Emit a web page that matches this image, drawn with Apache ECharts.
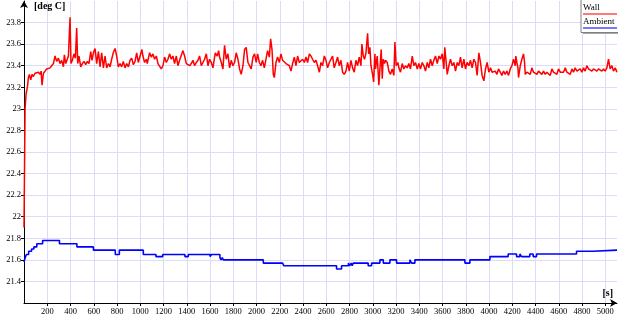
<!DOCTYPE html>
<html><head><meta charset="utf-8">
<script src="https://cdn.jsdelivr.net/npm/echarts@6/dist/echarts.min.js"></script>
<style>html,body{margin:0;padding:0;background:#fff}#c{width:618px;height:324px}</style>
</head><body><div id="c"></div>
<script>
const seriesNames = ['Wall', 'Ambient'];
const xAxisName = '[s]';
const yAxisName = '[deg C]';

const wallT = [0,9,18,29,38,46,58,69,81,95,109,124,138,147,155,167,181,195,210,224,238,253,267,281,296,310,324,339,347,359,373,382,396,404,416,430,442,453,462,473,488,502,516,531,545,559,574,585,597,611,625,640,654,668,683,697,711,726,740,754,768,783,797,811,826,840,854,869,883,898,912,926,940,955,969,983,
994,1014,1023,1037,1052,1060,1080,1095,1109,1123,1138,1152,1166,1181,1195,1209,1224,1238,1252,1267,1281,1295,1310,1324,1338,1353,1367,1381,1396,1410,1424,1439,1453,1467,1482,1496,1510,1525,1539,1553,1568,1582,1596,1611,1625,1645,1662,1674,1682,1697,1711,1725,1739,1754,1768,1782,1797,1811,1825,1840,1854,1868,1883,1897,1911,1926,1940,1954,1969,1983,1997,
2009,2024,2038,2052,2067,2081,2095,2110,2121,2133,2144,2153,2167,2181,2196,2210,2224,2239,2253,2267,2282,2296,2310,2325,2339,2353,2368,2382,2396,2411,2425,2439,2454,2468,2482,2497,2511,2525,2540,2554,2568,2583,2597,2611,2626,2640,2654,2668,2683,2697,2711,2726,2740,2754,2769,2783,2797,2812,2826,2840,2855,2869,2883,2898,2906,2918,2929,2941,2955,2964,2975,2984,2998,3007,3018,
3023,3038,3052,3061,3072,3081,3089,3101,3109,3124,3138,3152,3167,3181,3190,3201,3215,3224,3238,3253,3267,3281,3296,3310,3324,3339,3353,3367,3382,3396,3410,3425,3439,3453,3468,3482,3496,3511,3525,3539,3554,3568,3582,3597,3611,3619,3631,3640,3654,3668,3683,3697,3711,3726,3740,3754,3768,3783,3797,3811,3826,3840,3854,3869,3883,3897,3912,3926,3940,3955,3969,3983,3998,4012,4026,
4038,4053,4067,4081,4096,4110,4124,4139,4153,4167,4182,4196,4210,4225,4230,4239,4248,4253,4268,4282,4296,4305,4311,4325,4339,4354,4368,4382,4397,4411,4425,4440,4454,4468,4483,4497,4511,4526,4540,4554,4569,4583,4597,4612,4626,4640,4655,4669,4683,4698,4712,4726,4740,4755,4769,4783,4798,4812,4826,4841,4855,4869,4884,4898,4912,4927,4941,4955,4970,4984,4998,5013,5027,5041,5056,5070,5085,5099];
const wallV = [21.90,23.00,23.14,23.20,23.29,23.32,23.27,23.32,23.30,23.33,23.32,23.34,23.32,23.35,23.22,23.33,23.35,23.37,23.38,23.38,23.40,23.42,23.49,23.44,23.47,23.42,23.45,23.39,23.50,23.42,23.41,23.49,23.85,23.42,23.45,23.51,23.47,23.75,23.42,23.49,23.39,23.42,23.44,23.41,23.44,23.42,23.53,23.45,23.52,23.56,23.42,23.53,23.39,23.52,23.38,23.49,23.38,23.42,23.39,23.46,23.52,23.56,23.49,23.39,23.42,23.39,23.44,23.38,23.42,23.39,23.45,23.47,23.41,23.44,23.52,23.43,
23.43,23.55,23.49,23.43,23.46,23.42,23.52,23.48,23.51,23.46,23.49,23.42,23.43,23.37,23.40,23.48,23.43,23.46,23.51,23.46,23.49,23.42,23.49,23.40,23.45,23.46,23.54,23.49,23.42,23.43,23.40,23.42,23.45,23.40,23.43,23.45,23.49,23.40,23.43,23.46,23.51,23.40,23.46,23.43,23.38,23.52,23.49,23.54,23.48,23.43,23.37,23.59,23.46,23.51,23.38,23.45,23.40,23.43,23.52,23.46,23.37,23.32,23.40,23.55,23.57,23.43,23.40,23.37,23.48,23.51,23.43,
23.51,23.43,23.40,23.45,23.38,23.37,23.54,23.48,23.65,23.55,23.32,23.29,23.43,23.48,23.43,23.51,23.45,23.46,23.42,23.43,23.40,23.35,23.42,23.48,23.40,23.49,23.43,23.42,23.46,23.43,23.48,23.43,23.51,23.49,23.46,23.43,23.45,23.40,23.34,23.43,23.40,23.49,23.45,23.38,23.43,23.46,23.49,23.38,23.43,23.48,23.40,23.45,23.34,23.32,23.35,23.43,23.35,23.45,23.38,23.34,23.45,23.40,23.48,23.40,23.60,23.49,23.46,23.52,23.70,23.51,23.57,23.40,23.32,23.25,23.51,
23.37,23.49,23.22,23.37,23.55,23.28,23.46,23.42,23.45,23.43,23.35,23.32,23.37,23.31,23.62,23.40,23.43,23.38,23.34,23.42,23.37,23.40,23.38,23.42,23.37,23.49,23.40,23.43,23.37,23.42,23.37,23.43,23.40,23.35,23.43,23.38,23.46,23.40,23.45,23.49,23.42,23.49,23.46,23.51,23.37,23.57,23.43,23.32,23.40,23.46,23.40,23.43,23.35,23.43,23.40,23.48,23.38,23.46,23.37,23.43,23.40,23.45,23.38,23.46,23.43,23.31,23.52,23.43,23.31,23.26,23.37,23.43,23.34,23.38,23.34,
23.34,23.35,23.32,23.37,23.34,23.31,23.35,23.32,23.35,23.31,23.37,23.40,23.46,23.40,23.49,23.43,23.38,23.29,23.40,23.46,23.51,23.43,23.32,23.34,23.35,23.32,23.38,23.34,23.35,23.32,23.35,23.34,23.32,23.35,23.32,23.34,23.34,23.31,23.37,23.34,23.35,23.32,23.37,23.34,23.35,23.34,23.38,23.34,23.35,23.32,23.37,23.34,23.38,23.35,23.34,23.37,23.34,23.38,23.35,23.40,23.37,23.38,23.35,23.37,23.38,23.35,23.37,23.38,23.35,23.37,23.35,23.38,23.46,23.37,23.40,23.35,23.38,23.34];

const ambT = [0,10,20,40,65,85,110,160,305,455,597,785,820,1026,1135,1193,1384,1413,1571,1585,1600,1612,1685,1695,1705,1714,2058,2224,2235,2688,2731,2790,2800,2815,2822,2832,2960,2989,3061,3090,3147,3204,3319,3334,3362,3792,3835,4007,4164,4236,4265,4279,4350,4379,4408,4752,4895,4905,5100];
const ambV = [21.58,21.62,21.65,21.68,21.70,21.72,21.75,21.78,21.75,21.72,21.69,21.65,21.69,21.65,21.63,21.65,21.63,21.65,21.635,21.65,21.63,21.65,21.62,21.60,21.62,21.60,21.57,21.56,21.545,21.515,21.545,21.57,21.545,21.57,21.545,21.57,21.545,21.57,21.60,21.57,21.60,21.57,21.60,21.57,21.60,21.57,21.60,21.63,21.655,21.63,21.655,21.63,21.655,21.63,21.655,21.68,21.665,21.69,21.69];

const seriesColors = ['#ff0000', '#0000ff'];

function zip(a, b) { return a.map((t, i) => [t, b[i]]); }

const serif = '"Liberation Serif", "DejaVu Serif", serif';
const chart = echarts.init(document.getElementById('c'), null, {renderer: 'canvas'});
chart.setOption({
  animation: false,
  backgroundColor: '#ffffff',
  grid: {left: 24, right: 1, top: 1, bottom: 21, containLabel: false},
  xAxis: {
    type: 'value', min: 0, max: 5100, interval: 200,
    name: xAxisName, nameLocation: 'end', nameGap: -4,
    nameTextStyle: {fontFamily: serif, fontWeight: 'bold', fontSize: 10, color: '#000', align: 'right', verticalAlign: 'bottom', padding: [0, 0, 5, 0]},
    axisLine: {show: true, onZero: false, lineStyle: {color: '#000', width: 1}, symbol: ['none', 'arrow'], symbolSize: [6, 7]},
    axisTick: {show: true, length: 3, lineStyle: {color: '#000'}},
    axisLabel: {fontFamily: serif, fontSize: 8.5, color: '#000', margin: 4, showMinLabel: false, showMaxLabel: false,
      formatter: v => String(Math.round(v))},
    splitLine: {show: true, showMinLine: false, showMaxLine: false, lineStyle: {color: '#dcdcfa', width: 1}}
  },
  yAxis: {
    type: 'value', min: 21.2, max: 24.0, interval: 0.2,
    name: yAxisName, nameLocation: 'end', nameGap: -5,
    nameTextStyle: {fontFamily: serif, fontWeight: 'bold', fontSize: 10, color: '#000', align: 'left', verticalAlign: 'middle', padding: [0, 0, 0, 10]},
    axisLine: {show: true, onZero: false, lineStyle: {color: '#000', width: 1}, symbol: ['none', 'arrow'], symbolSize: [6, 7]},
    axisTick: {show: true, length: 3, lineStyle: {color: '#000'}},
    axisLabel: {fontFamily: serif, fontSize: 8.5, color: '#000', margin: 3, showMinLabel: false, showMaxLabel: false,
      formatter: v => String(Math.round(v * 10) / 10)},
    splitLine: {show: true, showMinLine: false, showMaxLine: false, lineStyle: {color: '#dcdcfa', width: 1}}
  },
  series: [
    {name: seriesNames[0], type: 'line', data: zip(wallT, wallV), showSymbol: false, symbol: 'none',
      lineStyle: {color: seriesColors[0], width: 1.5}, itemStyle: {color: seriesColors[0]}, z: 3},
    {name: seriesNames[1], type: 'line', data: zip(ambT, ambV), step: 'end', showSymbol: false, symbol: 'none',
      lineStyle: {color: seriesColors[1], width: 1.6}, itemStyle: {color: seriesColors[1]}, z: 2}
  ],
  graphic: [
    {type: 'rect', left: 583, top: 2, shape: {width: 40, height: 32}, style: {fill: '#a8a8a8'}, z: 10},
    {type: 'rect', left: 580.5, top: -1, shape: {width: 40, height: 33}, style: {fill: '#fff', stroke: '#808080', lineWidth: 1}, z: 11},
    {type: 'text', left: 583, top: 3, style: {text: seriesNames[0], fontFamily: serif, fontSize: 9, fill: '#000'}, z: 12},
    {type: 'line', shape: {x1: 583, y1: 14, x2: 617, y2: 14}, style: {stroke: seriesColors[0], lineWidth: 1.5, opacity: 0.7}, z: 12},
    {type: 'text', left: 583, top: 17, style: {text: seriesNames[1], fontFamily: serif, fontSize: 9, fill: '#000'}, z: 12},
    {type: 'line', shape: {x1: 583, y1: 28, x2: 617, y2: 28}, style: {stroke: seriesColors[1], lineWidth: 1.5, opacity: 0.7}, z: 12}
  ]
});
</script>
</body></html>
